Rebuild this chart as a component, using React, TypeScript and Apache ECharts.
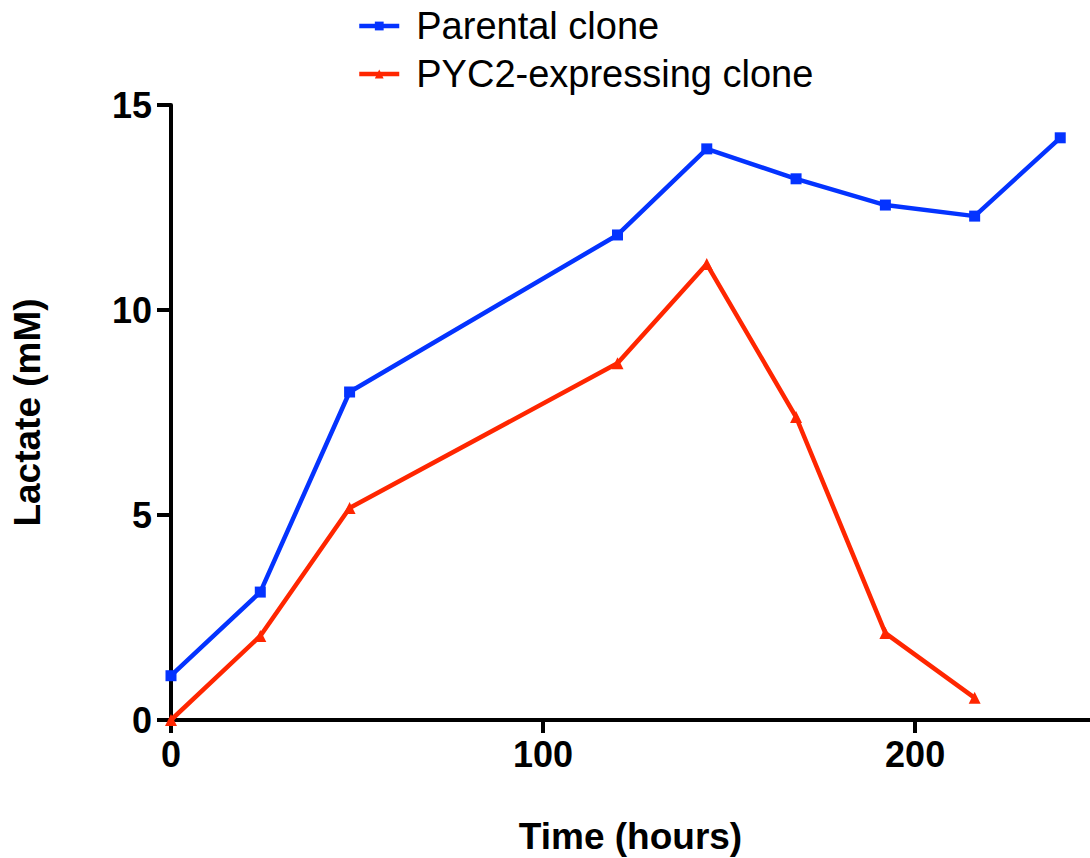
import React, { useEffect, useRef } from "react";
import * as echarts from "echarts";

const timeParental = [0, 24, 48, 120, 144, 168, 192, 216, 239];
const lactateParental = [1.08, 3.12, 8.0, 11.83, 13.93, 13.2, 12.56, 12.29, 14.2];
const timePYC2 = [0, 24, 48, 120, 144, 168, 192, 216];
const lactatePYC2 = [0, 2.05, 5.17, 8.7, 11.12, 7.39, 2.12, 0.54];
const xTicks = [0, 100, 200];
const yTicks = [0, 5, 10, 15];
const seriesNames = ["Parental clone", "PYC2-expressing clone"];

const BLUE = "#0433FF";
const RED = "#FF2600";
const FONT = "Liberation Sans, Arial, Helvetica, sans-serif";

export default function App() {
  const ref = useRef<HTMLDivElement>(null);
  useEffect(() => {
    document.body.style.margin = "0";
    const chart = echarts.init(ref.current!, null, { renderer: "svg" });
    const pair = (xs: number[], ys: number[]) => xs.map((x, i) => [x, ys[i]]);
    chart.setOption({
      animation: false,
      textStyle: { fontFamily: FONT },
      grid: {
        left: 171,
        top: 105,
        right: 0,
        bottom: 138,
        containLabel: false,
        outerBoundsMode: "none",
      },
      legend: {
        orient: "vertical",
        left: 352,
        top: 2,
        itemWidth: 40,
        itemHeight: 11,
        itemGap: 10,
        lineStyle: { width: 4.5 },
        textStyle: {
          fontFamily: FONT,
          fontSize: 38,
          color: "#000",
          lineHeight: 38,
          padding: [0, 0, 0, 12],
        },
        data: seriesNames,
      },
      xAxis: {
        type: "value",
        min: 0,
        max: 247,
        interval: 100,
        name: "Time (hours)",
        nameLocation: "middle",
        nameGap: 98,
        nameTextStyle: { fontFamily: FONT, fontSize: 37, fontWeight: "bold", color: "#000" },
        axisLine: { show: true, onZero: false, lineStyle: { color: "#000", width: 4 } },
        axisTick: { show: true, length: 13, customValues: xTicks, lineStyle: { color: "#000", width: 4 } },
        axisLabel: {
          customValues: xTicks,
          margin: 16,
          fontFamily: FONT,
          fontSize: 36,
          fontWeight: "bold",
          color: "#000",
        },
        splitLine: { show: false },
      },
      yAxis: {
        type: "value",
        min: 0,
        max: 15,
        interval: 5,
        name: "Lactate (mM)",
        nameLocation: "middle",
        nameGap: 125,
        nameTextStyle: { fontFamily: FONT, fontSize: 37, fontWeight: "bold", color: "#000" },
        axisLine: { show: true, lineStyle: { color: "#000", width: 4 } },
        axisTick: { show: true, length: 14, lineStyle: { color: "#000", width: 4 } },
        axisLabel: {
          customValues: yTicks,
          margin: 19,
          fontFamily: FONT,
          fontSize: 36,
          fontWeight: "bold",
          color: "#000",
        },
        splitLine: { show: false },
      },
      series: [
        {
          name: seriesNames[0],
          type: "line",
          data: pair(timeParental, lactateParental),
          symbol: "rect",
          symbolSize: 11,
          lineStyle: { color: BLUE, width: 4.5 },
          itemStyle: { color: BLUE },
          clip: false,
          z: 3,
        },
        {
          name: seriesNames[1],
          type: "line",
          data: pair(timePYC2, lactatePYC2),
          symbol: "triangle",
          symbolSize: 12,
          lineStyle: { color: RED, width: 4.5 },
          itemStyle: { color: RED },
          clip: false,
          z: 2,
        },
      ],
    });
    return () => chart.dispose();
  }, []);
  return <div ref={ref} style={{ width: 1090, height: 858 }} />;
}
